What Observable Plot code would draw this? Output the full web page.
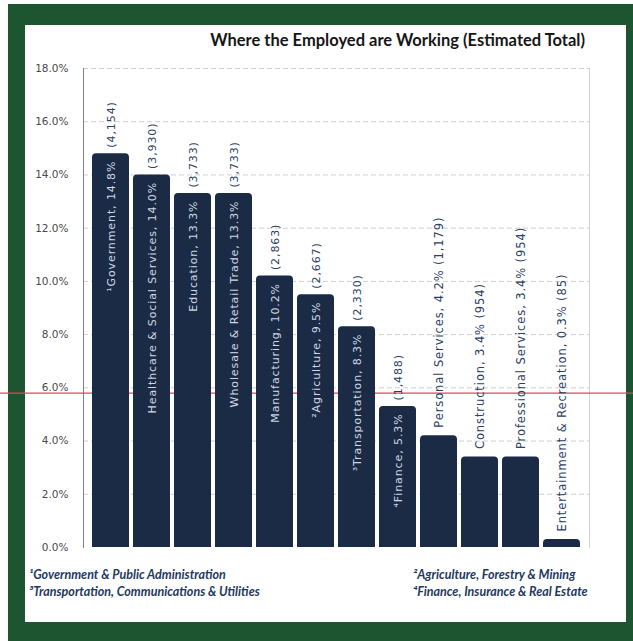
<!DOCTYPE html>
<html>
<head>
<meta charset="utf-8">
<script src="https://cdn.jsdelivr.net/npm/d3@7"></script>
<script src="https://cdn.jsdelivr.net/npm/@observablehq/plot@0.6"></script>
<style>
  html, body { margin: 0; padding: 0; background: #ffffff; }
  #frame {
    position: absolute; left: 8px; top: 4px;
    width: 601px; height: 597px;
    border-style: solid; border-color: #1c5530;
    border-width: 21px 7px 19px 17px;
    background: #ffffff;
  }
  #title {
    height: 30px; line-height: 30px; text-align: right; padding-right: 41px;
    font-family: Lato, "Open Sans", sans-serif; font-weight: 700; font-size: 16.5px; color: #161616;
  }
  #chart svg { display: block; overflow: visible; }
  #notes { position: relative; height: 60px; padding-top: 17px;
    font-family: Lato, "Open Sans", sans-serif; font-style: italic; font-weight: 700;
    font-size: 12.5px; line-height: 17px; color: #23395f; }
  #notes .col { position: absolute; top: 16px; white-space: nowrap; }
</style>
</head>
<body>
<div id="frame">
  <div id="title"></div>
  <div id="chart"></div>
  <div id="notes"><div class="col" id="noteL"></div><div class="col" id="noteR"></div></div>
</div>
<script>
const titleText = "Where the Employed are Working (Estimated Total)";
const categories = ["Government", "Healthcare & Social Services", "Education", "Wholesale & Retail Trade",
  "Manufacturing", "Agriculture", "Transportation", "Finance", "Personal Services", "Construction",
  "Professional Services", "Entertainment & Recreation"];
const noteMarks = ["¹", "", "", "", "", "²", "³", "⁴", "", "", "", ""];
const shares = [14.8, 14.0, 13.3, 13.3, 10.2, 9.5, 8.3, 5.3, 4.2, 3.4, 3.4, 0.3];
const counts = ["4,154", "3,930", "3,733", "3,733", "2,863", "2,667", "2,330", "1,488", "1,179", "954", "954", "85"];
const yTicks = [0, 2, 4, 6, 8, 10, 12, 14, 16, 18];
const markerLine = [5.8];
const notesLeft = ["¹Government & Public Administration", "³Transportation, Communications & Utilities"];
const notesRight = ["²Agriculture, Forestry & Mining", "⁴Finance, Insurance & Real Estate"];

document.getElementById("title").textContent = titleText;
const nl = document.getElementById("noteL"), nr = document.getElementById("noteR");
nl.style.left = "4px"; nr.style.left = "388px";
notesLeft.forEach(t => { const d = document.createElement("div"); d.textContent = t; nl.appendChild(d); });
notesRight.forEach(t => { const d = document.createElement("div"); d.textContent = t; nr.appendChild(d); });

const data = categories.map((c, i) => ({cat: c, mark: noteMarks[i], share: shares[i], count: counts[i]}));
const inside = data.filter(d => d.share >= 5);
const outside = data.filter(d => d.share < 5);
const pct = d => d.toFixed(1) + "%";
const navy = "#1b2b45";
const labelBlue = "#2b3f66";

const chart = Plot.plot({
  width: 601, height: 495,
  marginTop: 13, marginBottom: 3, marginLeft: 58, marginRight: 37,
  style: {fontFamily: "DejaVu Sans", background: "transparent", overflow: "visible"},
  x: {domain: categories, padding: 0.1, axis: null},
  y: {domain: [0, 18], axis: null},
  marks: [
    Plot.gridY(yTicks.filter(t => t > 0), {stroke: "#a8a8a8", strokeOpacity: 0.55, strokeDasharray: "5,3"}),
    Plot.frame({anchor: "left", stroke: "#808080"}),
    Plot.frame({anchor: "right", stroke: "#d2d2d2"}),
    Plot.axisY(yTicks, {label: null, tickSize: 0, tickPadding: 15, fontSize: 10.5, fill: "#4a4a4a", tickFormat: pct}),
    Plot.ruleY(markerLine, {stroke: "#e0455e", strokeWidth: 1.3, insetLeft: -83, insetRight: -44}),
    Plot.barY(data, {x: "cat", y: "share", fill: navy, rx: 4}),
    Plot.barY(data, {x: "cat", y: d => d.share / 2, fill: navy}),
    Plot.text(inside, {x: "cat", y: "share", rotate: -90, textAnchor: "end", dy: 7,
      text: d => d.mark + d.cat + ", " + pct(d.share), fill: "#d0d8e4", fontSize: 11}),
    Plot.text(inside, {x: "cat", y: "share", rotate: -90, textAnchor: "start", dy: -6,
      text: d => "(" + d.count + ")", fill: labelBlue, fontSize: 11}),
    Plot.text(outside, {x: "cat", y: "share", rotate: -90, textAnchor: "start", dy: -8,
      text: d => d.cat + ", " + pct(d.share) + " (" + d.count + ")", fill: labelBlue, fontSize: 11.5})
  ]
});
chart.querySelectorAll("text").forEach(t => {
  if (t.getAttribute("transform") && t.getAttribute("transform").includes("rotate")) t.style.letterSpacing = "0.9px";
});
document.getElementById("chart").appendChild(chart);
</script>
</body>
</html>
